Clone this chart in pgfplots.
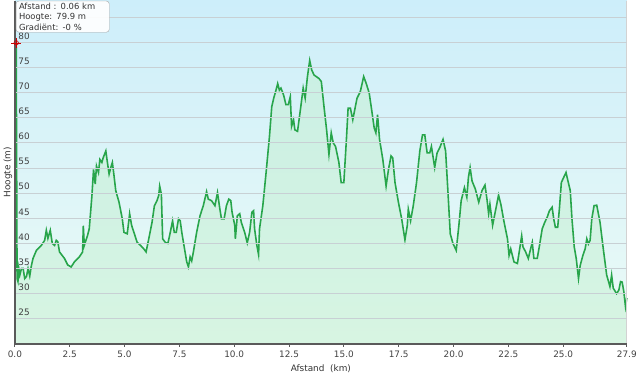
\documentclass[border=0pt]{standalone}
\usepackage{pgfplots}
\pgfplotsset{compat=1.18}
\usepackage{pgfplotstable}
\usepackage{fontspec}
\setmainfont{DejaVu Sans}
\definecolor{bgtop}{RGB}{205,238,250}
\definecolor{bgbot}{RGB}{236,251,246}
\definecolor{areafill}{RGB}{196,240,208}
\definecolor{linegreen}{RGB}{40,165,75}
\definecolor{gridc}{RGB}{200,208,212}
\definecolor{axisc}{RGB}{90,90,90}
\pgfplotstableread{
x y
0 79.9
0.06 79.9
0.1 33
0.14 32.4
0.18 35
0.226 33.7
0.3 35
0.375 35
0.45 33
0.529 33.4
0.6 35
0.678 33.5
0.75 35.5
0.827 37
0.981 38.6
1.207 39.6
1.357 40.6
1.433 42.6
1.506 41
1.614 42.6
1.705 40
1.809 39.6
1.886 40.6
1.958 40.3
2.035 38.3
2.261 37
2.41 35.7
2.564 35.3
2.713 36.3
2.939 37.3
3.088 38.3
3.12 43.5
3.165 39.6
3.314 41.6
3.391 42.9
3.513 49.5
3.586 54.7
3.663 51.8
3.721 55.4
3.812 54.1
3.875 56.7
3.966 56.1
4.024 57
4.147 58.4
4.219 56.1
4.296 53.8
4.373 55.1
4.445 56.1
4.522 53.4
4.599 50.5
4.748 48.2
4.897 44.9
4.974 42.2
5.123 41.9
5.232 45.9
5.322 43.6
5.426 42.2
5.575 40.2
5.729 39.6
5.878 38.9
5.982 38.3
6.104 40.9
6.254 44.2
6.362 47.5
6.48 48.5
6.557 49.5
6.602 51.4
6.679 49.8
6.738 40.9
6.86 40.2
6.977 40
7.086 42.2
7.19 44.5
7.267 42.2
7.357 42.2
7.461 44.9
7.538 44.5
7.61 42.2
7.732 39
7.836 36.3
7.913 35.3
7.99 37.3
8.062 36.5
8.139 38.3
8.288 42.2
8.442 45.5
8.591 47.5
8.741 50.3
8.818 48.8
8.967 48.5
9.121 47.5
9.238 50.1
9.347 46.8
9.419 44.9
9.541 44.9
9.645 47.5
9.754 48.8
9.844 48.5
9.903 46.2
10.025 43.6
10.052 40.9
10.142 45.5
10.251 45.9
10.323 44.2
10.477 42.2
10.595 40.1
10.703 42.2
10.807 46.2
10.884 46.5
10.929 42.9
11.033 39.6
11.11 37.8
11.155 42.9
11.305 47.5
11.454 54.1
11.608 61.3
11.712 67.2
11.802 68.9
11.906 70.5
11.983 71.8
12.06 70.5
12.132 70.9
12.254 69.5
12.358 67.6
12.467 67.6
12.557 69.2
12.616 63.3
12.706 64.6
12.765 62.6
12.887 62.3
13.036 67.2
13.145 70.9
13.235 68.9
13.339 73.2
13.443 76.4
13.534 74.5
13.642 73.5
13.868 72.8
13.972 72.2
14.094 67.2
14.212 62.6
14.32 57.7
14.424 62
14.515 60
14.619 59.3
14.773 56.1
14.877 52.1
14.999 52.1
15.116 60.7
15.193 66.9
15.297 66.9
15.406 64.6
15.496 66.6
15.6 68.9
15.749 70.2
15.903 73.2
16.021 71.8
16.156 69.9
16.279 66.2
16.382 63
16.459 62
16.536 65.6
16.626 60.7
16.776 56.7
16.925 51.4
17.034 54.7
17.151 57.4
17.228 57
17.332 52.1
17.486 48.2
17.635 44.9
17.784 40.7
17.893 43.6
17.938 46.8
18.042 44.5
18.164 47.5
18.313 52.1
18.463 58.4
18.585 61.6
18.689 61.6
18.797 58
18.915 58
18.992 59.3
19.141 55.1
19.25 58
19.367 59
19.521 60.7
19.638 58.4
19.747 50.1
19.851 41.9
19.973 40
20.122 38.6
20.244 43.6
20.348 48.5
20.497 51.1
20.606 49.2
20.678 53.1
20.755 55.1
20.845 52.4
20.995 50.8
21.149 48.2
21.298 50.5
21.433 51.6
21.524 48.8
21.601 45.9
21.659 47.8
21.782 43.6
21.899 46.2
22.053 49.6
22.157 47.8
22.306 44.2
22.46 40.9
22.532 37.6
22.609 38.9
22.758 36.3
22.912 36
23.016 38.9
23.107 41.5
23.165 39.3
23.287 38.3
23.409 37
23.513 38.9
23.59 40.2
23.663 37
23.816 37
23.92 39.6
24.043 42.9
24.16 44.2
24.269 45.2
24.373 46.5
24.495 47.2
24.567 44.9
24.644 43.2
24.748 43.2
24.825 46.8
24.915 52.1
25.019 53.1
25.128 54.1
25.218 52.4
25.322 50.5
25.399 44.9
25.503 39.3
25.594 37
25.698 33
25.775 35.6
25.897 37.6
26.0 38.9
26.077 40.9
26.15 39.9
26.227 40.6
26.304 44.9
26.407 47.5
26.529 47.6
26.679 44.2
26.828 38.9
26.982 33.7
27.131 31.4
27.208 33.7
27.28 31.1
27.434 30
27.538 30.7
27.615 32.4
27.687 32.3
27.764 30.4
27.84 27.4
27.9 29.1
}\profile
\pgfplotstableread{
x y
0.06 79.9
}\marker
\begin{document}
\begin{tikzpicture}
\begin{axis}[
  axis on top,
  scale only axis,
  width=617bp, height=346bp,
  xmin=0, xmax=27.9, ymin=20, ymax=88.3,
  clip=false,
  axis lines*=left,
  axis line style={draw=axisc, line width=1.4bp},
  axis background/.style={top color=bgtop, bottom color=bgbot},
  xtick={0,2.5,5,7.5,10,12.5,15,17.5,20,22.5,25,27.9},
  xticklabels={0.0,2.5,5.0,7.5,10.0,12.5,15.0,17.5,20.0,22.5,25.0,27.9},
  ytick={25,30,35,40,45,50,55,60,65,70,75,80,85},
  yticklabels={25,30,35,40,45,50,55,60,65,70,75,80,},
  tick align=outside,
  major tick length=3bp,
  xtick style={draw=axisc, line width=0.8bp},
  ytick style={draw=none},
  ymajorgrids,
  grid style={draw=gridc, line width=0.8bp},
  /pgf/number format/assume math mode=true,
  tick label style={font=\fontsize{9}{10}\selectfont, text=black!75},
  yticklabel style={anchor=south west, xshift=3bp, yshift=-0.5bp},
  xticklabel style={yshift=-1bp},
  xlabel={Afstand\ \ (km)},
  ylabel={Hoogte (m)},
  label style={font=\fontsize{9}{10}\selectfont, text=black!80},
  xlabel style={at={(axis description cs:0.5,0)}, anchor=center, yshift=-25bp},
  ylabel style={at={(axis description cs:-0.0113,0.5)}, anchor=center},
]
\addplot[draw=none, fill=areafill, fill opacity=0.5] table[x=x,y=y] {\profile} \closedcycle;
\addplot[linegreen, line width=1.6bp] table[x=x,y=y] {\profile};
\draw[draw=gray!35, line width=0.8bp] (axis description cs:1,0) -- (axis description cs:1,1);
\addplot[only marks, red!80!black, mark=+, mark size=5bp, line width=0.6bp] table[x=x,y=y] {\marker};
\addplot[only marks, red!80!black, mark=o, mark size=2.3bp, line width=0.6bp, fill=red!25] table[x=x,y=y] {\marker};
\coordinate (ttpos) at (axis description cs:0.0016,0.9075);
\end{axis}
\node[draw=gray!70, fill=white, fill opacity=0.92, text opacity=1, rounded corners=3bp, align=left, anchor=south west,
      inner xsep=3bp, inner ysep=2bp, text width=88bp,
      font=\fontsize{8.5}{10.5}\selectfont, text=black!80]
  (tt) at (ttpos)
  {Afstand : 0.06 km\\Hoogte: 79.9 m\\Gradiënt: -0 \%};
\path[use as bounding box] ([shift={(-15bp,-35bp)}]current axis.south west) rectangle ([shift={(8bp,0bp)}]current axis.north east);
\end{tikzpicture}
\end{document}
